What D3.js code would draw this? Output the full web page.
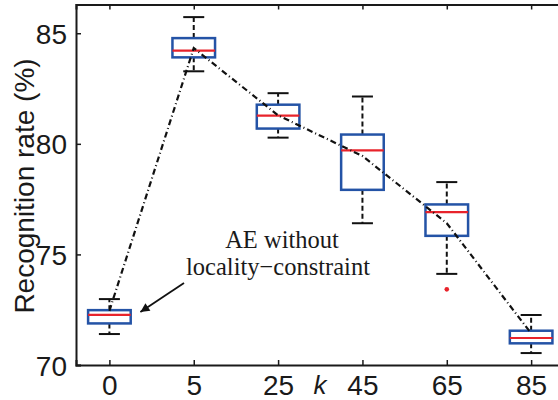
<!DOCTYPE html>
<html>
<head>
<meta charset="utf-8">
<script src="https://cdn.jsdelivr.net/npm/d3@7"></script>
<style>
  body { margin: 0; background: #fff; }
  svg { display: block; }
</style>
</head>
<body>
<div id="chart"></div>
<script>
// k values (categories)
var categories = ["0", "5", "25", "45", "65", "85"];
// box statistics (%)
var whiskerLow  = [71.40, 83.28, 80.28, 76.41, 74.12, 70.54];
var q1Values    = [71.88, 83.91, 80.69, 77.92, 75.84, 70.98];
var medians     = [72.27, 84.21, 81.28, 79.70, 76.91, 71.22];
var q3Values    = [72.48, 84.78, 81.77, 80.42, 77.26, 71.55];
var whiskerHigh = [72.98, 85.73, 82.29, 82.14, 78.27, 72.26];
var means       = [72.45, 84.33, 81.29, 79.45, 76.41, 71.43];
var outliers    = [{ k: 4, v: 73.42 }];
var yTicks = [70, 75, 80, 85];

var width = 558, height = 400;
var plotLeft = 76, plotTop = 4.5, plotBottom = 365, plotRight = 562;

var svg = d3.select("#chart").append("svg")
    .attr("width", width)
    .attr("height", height);

var x = d3.scaleLinear().domain([-0.396, 5.366]).range([plotLeft, plotRight]);
var y = d3.scaleLinear().domain([70, 86.3]).range([plotBottom, plotTop]);

var boxHalf = 21.3, capHalf = 10.5;
var data = categories.map(function(c, i) {
    return { k: c, i: i, lo: whiskerLow[i], q1: q1Values[i], med: medians[i],
             q3: q3Values[i], hi: whiskerHigh[i], mean: means[i] };
});

// axes
var axisLeft = d3.axisLeft(y).tickValues(yTicks).tickSize(-5).tickPadding(9);
svg.append("g").attr("class", "yaxis")
    .attr("transform", "translate(" + plotLeft + ",0)")
    .call(axisLeft);

var axisBottom = d3.axisBottom(x).tickValues(d3.range(categories.length))
    .tickFormat(function(d) { return categories[d]; })
    .tickSize(-5).tickPadding(10);
svg.append("g").attr("class", "xaxis")
    .attr("transform", "translate(0," + plotBottom + ")")
    .call(axisBottom);

var axisTop = d3.axisTop(x).tickValues(d3.range(categories.length))
    .tickFormat("").tickSize(-5);
svg.append("g").attr("class", "xtop")
    .attr("transform", "translate(0," + plotTop + ")")
    .call(axisTop);

svg.selectAll(".yaxis .domain, .xaxis .domain, .xtop .domain")
    .attr("stroke", "#1a1a1a").attr("stroke-width", 2);
svg.selectAll(".tick line").attr("stroke", "#1a1a1a").attr("stroke-width", 1.5);
svg.selectAll(".tick text")
    .attr("font-family", "Liberation Sans, Arial, sans-serif")
    .attr("font-size", 28)
    .attr("fill", "#1a1a1a");
svg.selectAll(".yaxis .tick text").attr("dy", "0.36em");

// axis titles
svg.append("text")
    .attr("transform", "translate(34,186) rotate(-90)")
    .attr("text-anchor", "middle")
    .attr("font-family", "Liberation Sans, Arial, sans-serif")
    .attr("font-size", 28)
    .attr("fill", "#1a1a1a")
    .text("Recognition rate (%)");

svg.append("text")
    .attr("x", 320).attr("y", 394)
    .attr("text-anchor", "middle")
    .attr("font-family", "Liberation Sans, Arial, sans-serif")
    .attr("font-style", "italic")
    .attr("font-size", 26)
    .attr("fill", "#1a1a1a")
    .text("k");

// boxes
var g = svg.selectAll(".box").data(data).enter().append("g").attr("class", "box");

g.append("line")
    .attr("x1", function(d) { return x(d.i); }).attr("x2", function(d) { return x(d.i); })
    .attr("y1", function(d) { return y(d.q3); }).attr("y2", function(d) { return y(d.hi); })
    .attr("stroke", "#111").attr("stroke-width", 2).attr("stroke-dasharray", "5,3");
g.append("line")
    .attr("x1", function(d) { return x(d.i); }).attr("x2", function(d) { return x(d.i); })
    .attr("y1", function(d) { return y(d.q1); }).attr("y2", function(d) { return y(d.lo); })
    .attr("stroke", "#111").attr("stroke-width", 2).attr("stroke-dasharray", "5,3");
g.append("line")
    .attr("x1", function(d) { return x(d.i) - capHalf; }).attr("x2", function(d) { return x(d.i) + capHalf; })
    .attr("y1", function(d) { return y(d.hi); }).attr("y2", function(d) { return y(d.hi); })
    .attr("stroke", "#111").attr("stroke-width", 2);
g.append("line")
    .attr("x1", function(d) { return x(d.i) - capHalf; }).attr("x2", function(d) { return x(d.i) + capHalf; })
    .attr("y1", function(d) { return y(d.lo); }).attr("y2", function(d) { return y(d.lo); })
    .attr("stroke", "#111").attr("stroke-width", 2);
g.append("rect")
    .attr("x", function(d) { return x(d.i) - boxHalf; })
    .attr("width", boxHalf * 2)
    .attr("y", function(d) { return y(d.q3); })
    .attr("height", function(d) { return y(d.q1) - y(d.q3); })
    .attr("fill", "none").attr("stroke", "#2453a6").attr("stroke-width", 2.5);
g.append("line")
    .attr("x1", function(d) { return x(d.i) - boxHalf; }).attr("x2", function(d) { return x(d.i) + boxHalf; })
    .attr("y1", function(d) { return y(d.med); }).attr("y2", function(d) { return y(d.med); })
    .attr("stroke", "#e8232b").attr("stroke-width", 2.2);

svg.selectAll(".outlier").data(outliers).enter().append("circle")
    .attr("class", "outlier")
    .attr("cx", function(d) { return x(d.k); })
    .attr("cy", function(d) { return y(d.v); })
    .attr("r", 2.3)
    .attr("fill", "#e8232b");

// mean line (dash-dot)
var line = d3.line().x(function(d) { return x(d.i); }).y(function(d) { return y(d.mean); });
svg.append("path")
    .datum(data)
    .attr("d", line)
    .attr("fill", "none")
    .attr("stroke", "#111")
    .attr("stroke-width", 2.2)
    .attr("stroke-dasharray", "6,3,1,3");

// annotation
svg.append("defs").append("marker")
    .attr("id", "arrow")
    .attr("viewBox", "0 0 10 10")
    .attr("refX", 10).attr("refY", 5)
    .attr("markerWidth", 10).attr("markerHeight", 9)
    .attr("markerUnits", "userSpaceOnUse")
    .attr("orient", "auto")
    .append("path").attr("d", "M0,0 L10,5 L0,10 Z").attr("fill", "#111");

svg.append("line")
    .attr("x1", 184).attr("y1", 283)
    .attr("x2", x(0) + 31).attr("y2", y(72.4))
    .attr("stroke", "#111").attr("stroke-width", 1.8)
    .attr("marker-end", "url(#arrow)");

var ann = svg.append("text")
    .attr("text-anchor", "middle")
    .attr("font-family", "Liberation Serif, Times New Roman, serif")
    .attr("font-size", 24.5)
    .attr("fill", "#1a1a1a");
ann.append("tspan").attr("x", 282).attr("y", 248).text("AE without");
ann.append("tspan").attr("x", 278).attr("y", 275).text("locality\u2212constraint");
</script>
</body>
</html>
